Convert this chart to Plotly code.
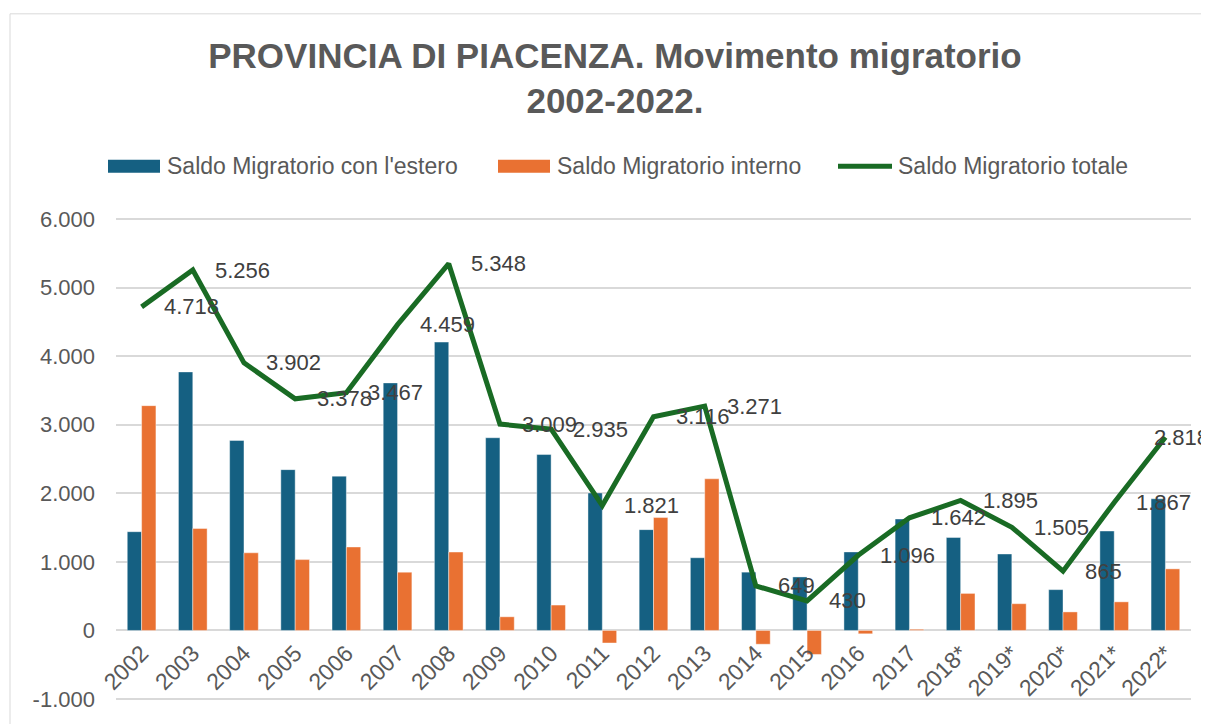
import plotly.graph_objects as go

# ---- data ----
anni = ["2002", "2003", "2004", "2005", "2006", "2007", "2008", "2009", "2010", "2011",
        "2012", "2013", "2014", "2015", "2016", "2017", "2018*", "2019*", "2020*", "2021*", "2022*"]
saldo_estero = [1440, 3770, 2770, 2345, 2250, 3610, 4205, 2810, 2565, 2005,
                1470, 1060, 850, 780, 1145, 1625, 1355, 1115, 595, 1450, 1920]
saldo_interno = [3278, 1486, 1132, 1033, 1217, 849, 1143, 199, 370, -183,
                 1646, 2211, -201, -350, -49, 17, 540, 390, 270, 417, 898]
saldo_totale = [4718, 5256, 3902, 3378, 3467, 4459, 5348, 3009, 2935, 1821,
                3116, 3271, 649, 430, 1096, 1642, 1895, 1505, 865, 1867, 2818]
y_tick_vals = [-1000, 0, 1000, 2000, 3000, 4000, 5000, 6000]
y_tick_text = ["-1.000", "0", "1.000", "2.000", "3.000", "4.000", "5.000", "6.000"]

names = ["Saldo Migratorio con l'estero", "Saldo Migratorio interno", "Saldo Migratorio totale"]
BLUE, ORANGE, GREEN = "#156082", "#E97132", "#196B24"
FONT = "Liberation Sans, Arial, sans-serif"

OFF = 8  # page body margin
W, H = 1209 - OFF, 724 - OFF
# gridlines 6000 at page y 219, -1000 at page y 701; plot area padded by 3px so edge gridlines show
PAD = 3
ML, MR, MT, MB = 116 - OFF, 1209 - 1191, 219 - PAD - OFF, 724 - (701 + PAD)
PW, PH = W - ML - MR, H - MT - MB
U = 7000 / (PH - 2 * PAD)  # data units per pixel
Y_RANGE = [-1000 - PAD * U, 6000 + PAD * U]


def px(x):  # page px -> paper
    return (x - OFF - ML) / PW


def py(y):  # page px -> paper
    return (H - MB - (y - OFF)) / PH


def fmt(v):
    return f"{v:,}".replace(",", ".")


fig = go.Figure()
fig.add_trace(go.Bar(x=anni, y=saldo_estero, name=names[0], marker_color=BLUE,
                     marker_line=dict(color="rgba(255,255,255,0.7)", width=0.6)))
fig.add_trace(go.Bar(x=anni, y=saldo_interno, name=names[1], marker_color=ORANGE,
                     marker_line=dict(color="rgba(255,255,255,0.7)", width=0.6)))
fig.add_trace(go.Scatter(x=anni, y=saldo_totale, name=names[2], mode="lines",
                         line=dict(color=GREEN, width=5)))

# data labels for the total line (to the right of each point); x = category index
n = len(anni)
for i, v in enumerate(saldo_totale):
    fig.add_annotation(x=i, y=v, xref="x", yref="y", text=fmt(v), showarrow=False,
                       xanchor="left", yanchor="middle",
                       xshift=-13 if i == n - 1 else 20,
                       font=dict(family=FONT, size=22, color="#404040"))

# custom legend
leg_y = 166
items = [(108, 160, 165, BLUE, "rect"), (498, 550, 555, ORANGE, "rect"), (838, 892, 896, GREEN, "line")]
for (x0, x1, xt, col, kind), nm in zip(items, names):
    if kind == "rect":
        fig.add_shape(type="rect", xref="paper", yref="paper", x0=px(x0), x1=px(x1),
                      y0=py(leg_y + 6.5), y1=py(leg_y - 6.5), fillcolor=col, line_width=0)
    else:
        fig.add_shape(type="line", xref="paper", yref="paper", x0=px(x0), x1=px(x1),
                      y0=py(leg_y), y1=py(leg_y), line=dict(color=col, width=5))
    fig.add_annotation(xref="paper", yref="paper", x=px(xt), y=py(leg_y), text=nm, showarrow=False,
                       xanchor="left", yanchor="middle",
                       font=dict(family=FONT, size=23, color="#595959"))

# chart border
fig.add_shape(type="rect", xref="paper", yref="paper", x0=px(10), x1=px(1250), y0=py(780), y1=py(13),
              line=dict(color="#D9D9D9", width=1), fillcolor="rgba(0,0,0,0)", layer="below")

fig.update_layout(
    width=W, height=H,
    margin=dict(l=ML, r=MR, t=MT, b=MB, pad=0),
    paper_bgcolor="white", plot_bgcolor="white",
    barmode="group", bargap=0.44, bargroupgap=0,
    showlegend=False,
    title=dict(text="<b>PROVINCIA DI PIACENZA. Movimento migratorio<br>2002-2022.</b>",
               x=(615 - OFF) / W, xref="container", xanchor="center",
               y=1 - 59.5 / H, yref="container", yanchor="middle",
               font=dict(family=FONT, size=35, color="#595959")),
    font=dict(family=FONT, color="#595959"),
)
fig.update_yaxes(range=Y_RANGE, tickvals=y_tick_vals, ticktext=y_tick_text,
                 showgrid=True, gridcolor="#D9D9D9", gridwidth=1.5,
                 zeroline=True, zerolinecolor="#D9D9D9", zerolinewidth=1.5,
                 showline=False, ticks="", ticklabelstandoff=20,
                 tickfont=dict(family=FONT, size=22, color="#595959"))
fig.update_xaxes(type="category", range=[-0.5, n - 0.5], anchor="free",
                 position=(0 - Y_RANGE[0]) / (Y_RANGE[1] - Y_RANGE[0]),
                 showline=False, showgrid=False, ticks="", tickangle=-45,
                 ticklabelstandoff=4,
                 tickfont=dict(family=FONT, size=23, color="#595959"))

fig.write_html("out.html")
